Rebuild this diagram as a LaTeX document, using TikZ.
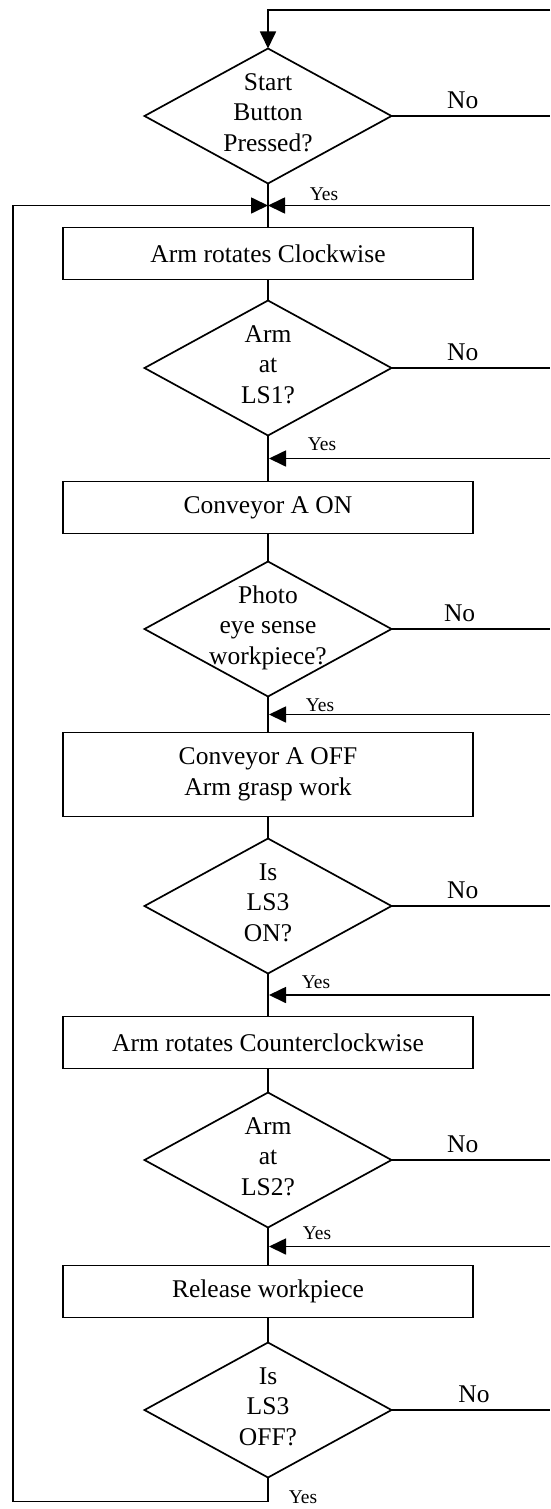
\documentclass[tikz,border=0pt]{standalone}
\usepackage{fontspec}
\setmainfont{Liberation Serif}
\usepackage{tikz}
\usetikzlibrary{shapes.geometric, arrows.meta, positioning, calc}
\tikzset{
  >=Triangle,
  flowline/.style={line width=1.7pt, black},
  flowarrow/.style={-{Triangle[length=17pt, width=16pt]}, line width=1.7pt, black},
  procbox/.style={rectangle, draw, line width=1.7pt, minimum width=410pt, minimum height=52pt, inner sep=0pt, outer sep=0pt, align=center},
  decision/.style={diamond, draw, line width=1.7pt, minimum width=247pt, minimum height=135pt, inner sep=0pt, outer sep=0pt},
  nolabel/.style={inner sep=0pt, above=6pt},
  yeslabel/.style={inner sep=0pt, font=\fontsize{19.5}{21}\selectfont}
}
% question text inside a diamond, kept from growing the shape
\newcommand{\qtext}[1]{\makebox[0pt]{\raisebox{-5pt}[0pt][0pt]{\begin{tabular}{@{}c@{}}#1\end{tabular}}}}

\begin{document}
\begin{tikzpicture}[x=1pt, y=1pt, font=\fontsize{25.5}{30.5}\selectfont]
    \useasboundingbox (0,0) rectangle (550,-1509);
    \coordinate (redge) at (550,0);
    \coordinate (ledge) at (13,0);

    % main column
    \node (d1) [decision] at (268,-116) {\qtext{Start\\Button\\Pressed?}};
    \node (b1) [procbox, below=44pt of d1] {Arm rotates Clockwise};
    \node (d2) [decision, below=21pt of b1] {\qtext{Arm\\at\\LS1?}};
    \node (b2) [procbox, below=46pt of d2] {Conveyor A ON};
    \node (d3) [decision, below=28pt of b2] {\qtext{Photo\\eye sense\\workpiece?}};
    \node (b3) [procbox, minimum height=84pt, below=36pt of d3] {Conveyor A OFF\\[0.5pt]Arm grasp work};
    \node (d4) [decision, below=22pt of b3] {\qtext{Is\\LS3\\ON?}};
    \node (b4) [procbox, below=43pt of d4] {Arm rotates Counterclockwise};
    \node (d5) [decision, below=24pt of b4] {\qtext{Arm\\at\\LS2?}};
    \node (b5) [procbox, below=38pt of d5] {Release workpiece};
    \node (d6) [decision, below=25pt of b5] {\qtext{Is\\LS3\\OFF?}};

    % merge points
    \coordinate (m1) at ($(d1.south)!0.5!(b1.north)$);
    \coordinate (m2) at ($(d2.south)!0.5!(b2.north)$);
    \coordinate (m3) at ($(d3.south)!0.5!(b3.north)$);
    \coordinate (m4) at ($(d4.south)!0.5!(b4.north)$);
    \coordinate (m5) at ($(d5.south)!0.5!(b5.north)$);
    \coordinate (lbot) at ([yshift=-24pt]d6.south);

    % straight links
    \draw[flowline] (d1.south) -- (b1.north);
    \draw[flowline] (b1.south) -- (d2.north);
    \draw[flowline] (d2.south) -- (b2.north);
    \draw[flowline] (b2.south) -- (d3.north);
    \draw[flowline] (d3.south) -- (b3.north);
    \draw[flowline] (b3.south) -- (d4.north);
    \draw[flowline] (d4.south) -- (b4.north);
    \draw[flowline] (b4.south) -- (d5.north);
    \draw[flowline] (d5.south) -- (b5.north);
    \draw[flowline] (b5.south) -- (d6.north);

    % No branches
    \draw[flowarrow] ([yshift=-10pt]redge) -| (d1.north);
    \draw[flowline] (d1.east) -- (d1.east -| redge) node[nolabel, pos=0.45] {No};
    \draw[flowline] (d2.east) -- (d2.east -| redge) node[nolabel, pos=0.45] {No};
    \draw[flowline] (d3.east) -- (d3.east -| redge) node[nolabel, pos=0.43] {No};
    \draw[flowline] (d4.east) -- (d4.east -| redge) node[nolabel, pos=0.45] {No};
    \draw[flowline] (d5.east) -- (d5.east -| redge) node[nolabel, pos=0.45] {No};
    \draw[flowline] (d6.east) -- (d6.east -| redge) node[nolabel, pos=0.52] {No};

    % returns
    \draw[flowarrow] (m1 -| redge) -- (m1);
    \draw[flowarrow] (m2 -| redge) -- ([xshift=1pt]m2);
    \draw[flowarrow] (m3 -| redge) -- ([xshift=1pt]m3);
    \draw[flowarrow] (m4 -| redge) -- ([xshift=1pt]m4);
    \draw[flowarrow] (m5 -| redge) -- ([xshift=1pt]m5);
    \draw[flowarrow] (d6.south) -- (lbot) -- (lbot -| ledge) -- (m1 -| ledge) -- (m1);

    % Yes labels
    \node (y1) [yeslabel] at ([shift={(56pt,-11pt)}]d1.south) {Yes};
    \node (y2) [yeslabel] at ([shift={(54pt,-9pt)}]d2.south) {Yes};
    \node (y3) [yeslabel] at ([shift={(52pt,-9pt)}]d3.south) {Yes};
    \node (y4) [yeslabel] at ([shift={(48pt,-9pt)}]d4.south) {Yes};
    \node (y5) [yeslabel] at ([shift={(49pt,-6pt)}]d5.south) {Yes};
    \node (y6) [yeslabel] at ([shift={(35pt,-20pt)}]d6.south) {Yes};
\end{tikzpicture}
\end{document}
